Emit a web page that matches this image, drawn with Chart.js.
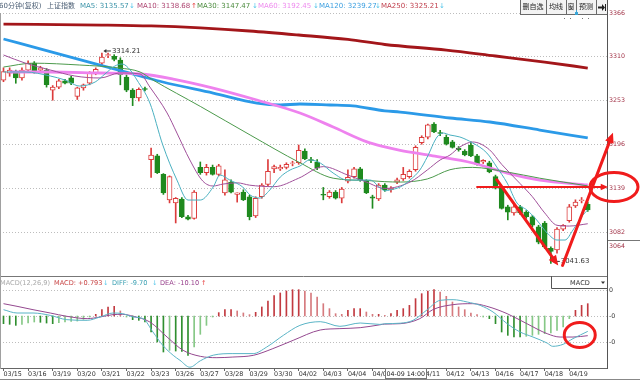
<!DOCTYPE html>
<html><head><meta charset="utf-8">
<script src="https://cdn.jsdelivr.net/npm/chart.js@4.4.0/dist/chart.umd.min.js"></script>
<style>
html,body{margin:0;padding:0;background:#fff;}
#wrap{position:relative;width:640px;height:380px;overflow:hidden;background:#fff;}
canvas{position:absolute;left:0;}
#main{top:0;}
#macd{top:276px;}
</style></head><body>
<div id="wrap"><canvas id="main" width="640" height="276"></canvas><canvas id="macd" width="640" height="104"></canvas></div>
<script>
// ---------- data ----------
const dayLabels = ['03/15','03/16','03/19','03/20','03/21','03/22','03/23','03/26','03/27','03/28','03/29','03/30','04/02','04/03','04/04','04/09','04/10','04/11','04/12','04/13','04/16','04/17','04/18','04/19'];

const openP  = [3279,3288,3288,3282,3292,3301,3292,3292,3266,3270,3278,3282,3258,3269,3275,3288,3301,3311,3310,3305,3283,3266,3256,3268,3176,3181,3157,3124,3120,3125,3102,3100,3166,3159,3166,3157,3133,3147,3131,3134,3128,3103,3128,3144,3164,3164,3166,3171,3172,3187,3176,3173,3131,3128,3134,3126,3148,3154,3164,3148,3128,3125,3143,3137,3147,3151,3154,3163,3198,3205,3222,3211,3205,3199,3191,3187,3195,3181,3173,3172,3154,3139,3115,3107,3115,3108,3102,3089,3094,3061,3059,3086,3097,3116,3123,3118];
const highP  = [3295,3295,3292,3295,3304,3303,3297,3294,3272,3280,3280,3284,3270,3274,3290,3295,3314.21,3314,3312,3308,3286,3268,3269,3270,3191,3183,3158,3155,3127,3127,3104,3136,3173,3170,3169,3170,3163,3150,3133,3137,3130,3128,3145,3176,3169,3169,3172,3174,3195,3190,3179,3176,3140,3136,3136,3140,3163,3166,3166,3150,3130,3145,3145,3141,3152,3166,3163,3194,3207,3222,3224,3214,3208,3201,3193,3189,3199,3183,3176,3174,3156,3140,3117,3117,3117,3110,3104,3091,3096,3063,3088,3092,3118,3124,3127,3121];
const lowP   = [3277,3284,3275,3279,3290,3288,3290,3270,3253,3268,3274,3273,3254,3266,3273,3286,3299,3308,3304,3273,3264,3246,3252,3265,3153,3158,3131,3120,3094,3101,3098,3099,3157,3156,3156,3155,3130,3133,3121,3123,3098,3101,3126,3142,3159,3162,3164,3168,3170,3176,3172,3163,3124,3126,3125,3120,3146,3152,3148,3132,3113,3123,3135,3134,3145,3149,3152,3161,3196,3203,3211,3207,3195,3191,3187,3181,3180,3169,3171,3159,3138,3112,3098,3104,3105,3100,3089,3067,3061,3041.63,3055,3084,3095,3114,3120,3109];
const closeP = [3290,3292,3282,3292,3301,3290,3295,3273,3270,3278,3275,3275,3269,3273,3288,3293,3309,3312,3306,3286,3266,3256,3267,3267,3182,3159,3133,3154,3126,3102,3099,3134,3159,3166,3157,3168,3150,3134,3133,3124,3102,3126,3143,3161,3167,3166,3170,3172,3188,3177,3175,3165,3130,3134,3126,3138,3153,3164,3150,3133,3126,3143,3137,3139,3150,3157,3161,3192,3205,3221,3212,3210,3196,3192,3189,3182,3181,3170,3175,3160,3139,3113,3108,3115,3107,3102,3091,3069,3063,3057,3086,3091,3115,3121,3124,3111];

const ma5Idx = [0,3.5,7.6,10,12.4,14.9,16.5,18.1,19.3,20.6,21.7,23.8,25.9,28.2,30,32,34.1,35.2,36.8,38.9,40.1,41.7,43.3,45,46.6,48.2,49.8,51.5,53.6,55.9,58,59.6,61.2,62,62.8,64.5,66.1,67.7,68.9,70.5,71.5,72.6,74.2,76.3,78.6,80.2,81.9,83.5,85.1,86.7,88.4,90,91.3,92.6,94.2,95];
const ma5Val = [3289.6,3289.6,3284.4,3279.2,3271.4,3276.6,3287.0,3297.3,3299.9,3292.2,3279.2,3249.4,3195.0,3149.6,3123.7,3123.7,3140.6,3156.1,3149.6,3140.6,3130.2,3126.3,3136.7,3153.5,3162.6,3167.8,3175.6,3171.7,3158.7,3149.6,3149.6,3149.6,3140.0,3135.6,3136.7,3140.6,3149.6,3162.6,3179.4,3205.4,3210.5,3207.9,3205.4,3197.6,3184.6,3166.5,3145.7,3119.8,3110.8,3097.8,3081.0,3071.9,3071.9,3084.9,3104.3,3110.8];
const ma10Idx = [0,3.5,7.6,11.6,15.7,18.9,22.2,23.8,26.6,28.2,30.3,32.4,34.1,35.7,38,40,44,48,52,56,59,62,66.1,68.9,71,72.6,74.2,76.3,79,81,84,86,88,90,92,95];
const ma10Val = [3311.6,3301.2,3292.2,3284.4,3281.8,3288.3,3287.0,3270.1,3236.5,3210.5,3175.6,3148.3,3141.9,3144.4,3146,3143,3141,3152,3167,3156,3147,3138.7,3147,3162.6,3175.6,3182,3192.4,3198.9,3189,3170,3145,3128,3107,3091,3090,3093];
const ma30Idx = [0,4.8,12.4,18.9,22.2,24.3,32,40.1,48.2,53.6,59.1,62,64.5,68.9,72.6,76.3,81.9,87.2,95];
const ma30Val = [3296,3301,3298.6,3294.7,3289.6,3279.2,3245,3208,3172,3152,3149,3147.5,3147,3151,3163,3166,3160,3152,3142];
const ma60Idx = [1,7.6,15.7,22.2,27.6,34.1,41.2,48.2,53.6,59.1,62,64.5,69.8,76.3,81.9,87.2,95];
const ma60Val = [3289.6,3289.6,3288.3,3287.0,3280.5,3268.8,3253.3,3236.4,3218.3,3199,3192.45,3188,3181,3171.7,3158.7,3149.6,3143.2];
const ma120Idx = [0,7.6,15.7,22.2,25.9,34.1,41.2,45,48.2,53.1,56.8,62,64.5,72.6,79.1,87.2,95];
const ma120Val = [3332.3,3316,3298.6,3284.6,3276.6,3262.3,3249.4,3246.8,3248.1,3246.8,3245.6,3239.3,3237.7,3230.0,3224.8,3214.4,3204.1];
const ma250Idx = [0,16,24,32,40,48,56,62,72,80,88,95];
const ma250Val = [3351.7,3350.4,3349.2,3346.6,3342.7,3337.5,3331.7,3325.2,3318,3310.3,3302.5,3294.7];

const macdHist = [-9.6,-10.4,-11.7,-10.4,-8.8,-7.5,-7.9,-8.8,-9.6,-8.3,-7.5,-6.7,-6.3,-4.2,-1.3,2.1,7.9,11.3,12.1,6.3,-1.3,-4.6,-5.4,-7.5,-20,-32.5,-45,-42.9,-43.8,-44.2,-49.2,-38.8,-22.9,-11.7,-1.3,4.2,7.9,7.9,6.3,3.8,1.7,4.6,11.3,18.8,25.4,28.8,31.3,32.9,32.9,31.3,28.8,23.8,15.4,9.2,2.9,2.1,7.1,9.2,9.2,5.0,2.1,2.1,0.793,2.9,7.1,9.2,13.3,21.7,27.9,31.3,32.9,30.0,24.6,17.5,11.3,7.9,3.8,1.7,-1.3,-3.3,-9.6,-20,-24.2,-26.3,-26.3,-25.4,-24.2,-22.9,-22.1,-21.3,-17.9,-13.8,-3.3,7.1,13.3,15.4];
const diffIdx = [0,2.2,4.8,7.6,10.3,13.6,15.7,17.8,19.4,21.1,22.7,24.3,25.9,27.6,28.7,30.3,32,34.1,37.3,40.6,42.8,45.5,48.2,51.5,54.7,58,61.2,62,64.5,66.6,68.9,71,73.1,75.4,77.5,79.6,81.9,84,86.1,88.4,89.3,91,92.6,95];
const diffVal = [7.9,3.75,3.75,0.8,-4.6,-5.4,-1.25,3.75,2.9,-1.25,-3.3,-20,-36.7,-49.2,-55.4,-64,-56,-49,-47,-47,-38.8,-24.2,-11.7,-7.1,-12.9,-8.75,-10.5,-9.7,-9.0,-5.4,7.9,19.6,20.4,17.5,13.3,5,-9.6,-20,-26.3,-33.8,-37.9,-35.4,-28.3,-19.2];
const deaIdx = [0,2.2,4.8,7.6,10.3,13.6,15.7,17.8,19.4,21.1,23.8,26.6,29.2,32,34.7,37.3,40.6,43.8,47.1,51.5,54.7,58,61.2,62,64.5,67.7,69.8,73.1,76.3,78.6,81.9,85.1,88.4,90.5,92.6,95];
const deaVal = [15.4,12.1,7.9,3.75,-0.4,-3.3,-1.25,1.7,2.1,-0.4,-7.5,-26.3,-42.9,-50.4,-52.1,-51.3,-49.2,-40.8,-30.4,-17.5,-15.8,-14.6,-11,-10.1,-9.6,-3.3,7.9,14.2,15.4,12.1,2.9,-9.6,-22.1,-26.3,-26.3,-24.6];

const priceTicks = [3366,3310,3253,3196,3139,3082,3064];
const priceGrid = [3366,3310,3253,3196,3139,3082];
const macdTicks = [32.5,0,-32.5];
const macdTickLabels = ['0','-0','-0'];

const headerItems = [
  {t:'60分钟(复权)', c:'#4b5e74', x:-1},
  {t:'上证指数', c:'#4b5e74', x:47},
  {t:'MA5: 3135.57', c:'#3b93a8', x:80}, {t:'↓', c:'#55c6ea', x:129},
  {t:'MA10: 3138.68', c:'#ad4470', x:137}, {t:'↑', c:'#e53535', x:191},
  {t:'MA30: 3147.47', c:'#4a8a3c', x:197}, {t:'↓', c:'#55c6ea', x:252},
  {t:'MA60: 3192.45', c:'#ee8aee', x:258}, {t:'↓', c:'#55c6ea', x:313},
  {t:'MA120: 3239.27', c:'#3c9fe0', x:319}, {t:'↓', c:'#55c6ea', x:375},
  {t:'MA250: 3325.21', c:'#c0404e', x:381}, {t:'↓', c:'#55c6ea', x:439}
];
const macdHeader = [
  {t:'MACD(12,26,9)', c:'#a9a9a9', x:0},
  {t:'MACD: +0.793', c:'#c84444', x:54}, {t:'↓', c:'#55c6ea', x:103},
  {t:'DIFF: -9.70', c:'#3aa0b2', x:112}, {t:'↓', c:'#55c6ea', x:152},
  {t:'DEA: -10.10', c:'#98408c', x:160}, {t:'↑', c:'#e53535', x:201}
];
const buttons = [{t:'删自选',a:520,b:546},{t:'均线',a:546,b:566},{t:'窗',a:566,b:576},{t:'预测',a:576,b:596},{t:'',a:596,b:607}];
const extremes = [{i:16, v:3314.21, t:'3314.21'},{i:89, v:3041.63, t:'3041.63'}];
const crossIdx = 62, crossLabel = '04-09 14:00';
const redArrows = [
  {a:[77,3140.6], b:[98.3,3140.6], w:2, h:8},
  {a:[80.2,3150], b:[90.2,3039], w:3, h:11},
  {a:[90.9,3039], b:[99.1,3211], w:3, h:11}
];
const redRingMain = {at:[99.27,3140.6], rx:24, ry:14.5};
const redRingMacd = {at:[93.7,-23.75], rx:15.5, ry:12.5};

// ---------- helpers ----------
const X_MIN = -3.5/6.15, X_MAX = X_MIN + 607/6.15;
const Y_MIN = 3026.6, Y_MAX = 3366;
const RED = '#dc3c3c', GREEN = '#1f8a1f', ANN = '#f01c1c';
const FONT = '"DejaVu Sans","Noto Sans CJK SC",sans-serif';
const pts = (ix, vs) => ix.map((x,k)=>({x:x, y:vs[k]}));
const up = closeP.map((c,i)=>c>=openP[i]);

function drawArrow(ctx,x1,y1,x2,y2,lw,head){
  const a = Math.atan2(y2-y1,x2-x1);
  ctx.lineWidth = lw;
  ctx.beginPath(); ctx.moveTo(x1,y1); ctx.lineTo(x2-head*0.7*Math.cos(a), y2-head*0.7*Math.sin(a)); ctx.stroke();
  ctx.beginPath(); ctx.moveTo(x2,y2);
  ctx.lineTo(x2-head*Math.cos(a-0.42), y2-head*Math.sin(a-0.42));
  ctx.lineTo(x2-head*Math.cos(a+0.42), y2-head*Math.sin(a+0.42));
  ctx.closePath(); ctx.fill();
}
function dottedGrid(chart, values){
  const {ctx, chartArea, scales:{y}} = chart;
  ctx.save(); ctx.strokeStyle = '#bdbdbd'; ctx.lineWidth = 1; ctx.setLineDash([1,2]);
  values.forEach(v=>{ const py = Math.round(y.getPixelForValue(v))+0.5;
    ctx.beginPath(); ctx.moveTo(chartArea.left, py); ctx.lineTo(chartArea.right, py); ctx.stroke(); });
  ctx.restore();
}

const mainDeco = {
  id:'mainDeco',
  beforeDatasetsDraw(chart){ dottedGrid(chart, priceGrid); },
  afterDraw(chart){
    const {ctx, scales:{x:xs, y:ys}} = chart;
    ctx.save();
    ctx.textBaseline = 'middle'; ctx.textAlign = 'left';
    ctx.font = '7px '+FONT;
    headerItems.forEach(it=>{ ctx.fillStyle = it.c; ctx.fillText(it.t, it.x, 6.5); });
    // buttons
    ctx.font = '7px '+FONT;
    buttons.forEach(b=>{
      ctx.fillStyle = '#f3f3f3'; ctx.fillRect(b.a, 0, b.b-b.a, 15);
      ctx.strokeStyle = '#6a6a6a'; ctx.lineWidth = 1; ctx.strokeRect(b.a+0.5, -0.5, b.b-b.a, 15);
      ctx.fillStyle = '#222'; ctx.textAlign = 'center'; ctx.fillText(b.t, (b.a+b.b)/2, 7.5);
    });
    ctx.fillStyle = '#222';
    ctx.beginPath(); ctx.moveTo(598,6.5); ctx.lineTo(602,6.5); ctx.lineTo(602,4); ctx.lineTo(605,7.5); ctx.lineTo(602,11); ctx.lineTo(602,8.5); ctx.lineTo(598,8.5); ctx.closePath(); ctx.fill();
    ctx.fillRect(605,4,1,7);
    // small marker under buttons
    ctx.fillStyle = '#3aa6d8'; ctx.fillRect(575,12,3,3); ctx.fillRect(576,10,1,2);
    ctx.fillStyle = '#777';
    [564,570,582,588].forEach(xx=>ctx.fillRect(xx,18,1,1));
    // frame
    ctx.strokeStyle = '#555'; ctx.lineWidth = 1;
    ctx.beginPath(); ctx.moveTo(607.5,0); ctx.lineTo(607.5,276); ctx.stroke();
    ctx.strokeStyle = '#a0a0a0';
    ctx.beginPath(); ctx.moveTo(0.5,13); ctx.lineTo(0.5,276); ctx.stroke();
    const y64 = Math.round(ys.getPixelForValue(3064)-6)+0.5;
    ctx.strokeStyle = '#777';
    ctx.beginPath(); ctx.moveTo(608,y64); ctx.lineTo(640,y64); ctx.stroke();
    // extremes
    ctx.font = '6.9px '+FONT; ctx.textAlign = 'left';
    extremes.forEach(e=>{
      const px = xs.getPixelForValue(e.i), py = ys.getPixelForValue(e.v) - 2;
      ctx.strokeStyle = '#333'; ctx.fillStyle = '#333'; ctx.lineWidth = 1;
      ctx.beginPath(); ctx.moveTo(px+3, py); ctx.lineTo(px+9, py); ctx.stroke();
      ctx.beginPath(); ctx.moveTo(px+1.5, py); ctx.lineTo(px+4.5, py-2); ctx.lineTo(px+4.5, py+2); ctx.closePath(); ctx.fill();
      ctx.fillText(e.t, px+10, py);
    });
    // annotations
    ctx.strokeStyle = ANN; ctx.fillStyle = ANN; ctx.lineCap = 'round';
    redArrows.forEach(r=>{
      drawArrow(ctx, xs.getPixelForValue(r.a[0]), ys.getPixelForValue(r.a[1]), xs.getPixelForValue(r.b[0]), ys.getPixelForValue(r.b[1]), r.w, r.h);
    });
    ctx.lineWidth = 3;
    ctx.beginPath();
    ctx.ellipse(xs.getPixelForValue(redRingMain.at[0]), ys.getPixelForValue(redRingMain.at[1]), redRingMain.rx, redRingMain.ry, 0, 0, Math.PI*2);
    ctx.stroke();
    ctx.restore();
  }
};

const macdDeco = {
  id:'macdDeco',
  beforeDatasetsDraw(chart){ dottedGrid(chart, macdTicks); },
  afterDraw(chart){
    const {ctx, scales:{x:xs, y:ys}} = chart;
    ctx.save();
    ctx.strokeStyle = '#777'; ctx.lineWidth = 1;
    ctx.beginPath(); ctx.moveTo(0,0.5); ctx.lineTo(607,0.5); ctx.stroke();
    ctx.strokeStyle = '#a0a0a0';
    ctx.beginPath(); ctx.moveTo(0.5,0); ctx.lineTo(0.5,93); ctx.stroke();
    ctx.strokeStyle = '#555';
    ctx.beginPath(); ctx.moveTo(607.5,0); ctx.lineTo(607.5,93); ctx.stroke();
    ctx.strokeStyle = '#888';
    ctx.beginPath(); ctx.moveTo(0,103.5); ctx.lineTo(640,103.5); ctx.stroke();
    ctx.textBaseline = 'middle'; ctx.textAlign = 'left'; ctx.font = '6.6px '+FONT;
    macdHeader.forEach(it=>{ ctx.fillStyle = it.c; ctx.fillText(it.t, it.x, 7); });
    // MACD selector box
    ctx.fillStyle = '#fff'; ctx.fillRect(551,1,56,11);
    ctx.strokeStyle = '#555';
    ctx.beginPath(); ctx.moveTo(551.5,0); ctx.lineTo(551.5,12.5); ctx.lineTo(607,12.5); ctx.stroke();
    ctx.fillStyle = '#333'; ctx.textAlign = 'center'; ctx.fillText('MACD', 580, 7);
    ctx.beginPath(); ctx.moveTo(601,5.5); ctx.lineTo(605,5.5); ctx.lineTo(603,8); ctx.closePath(); ctx.fill();
    // crosshair date box
    const cx = Math.round(xs.getPixelForValue(crossIdx));
    ctx.fillStyle = '#fff'; ctx.fillRect(cx, 93, 42, 10);
    ctx.strokeStyle = '#777'; ctx.strokeRect(cx+0.5, 92.5, 41, 10);
    ctx.fillStyle = '#222'; ctx.textAlign = 'left'; ctx.font = '6.3px '+FONT;
    ctx.fillText(crossLabel, cx+1.5, 98.5);
    // ring
    ctx.strokeStyle = ANN; ctx.lineWidth = 3;
    ctx.beginPath();
    ctx.ellipse(xs.getPixelForValue(redRingMacd.at[0]), ys.getPixelForValue(redRingMacd.at[1]), redRingMacd.rx, redRingMacd.ry, 0, 0, Math.PI*2);
    ctx.stroke();
    ctx.restore();
  }
};

const lineDs = (label, ix, vs, color, w, order) => ({type:'line', label, data: pts(ix,vs), borderColor:color, borderWidth:w, pointRadius:0, fill:false, cubicInterpolationMode:'monotone', order});

new Chart(document.getElementById('main'), {
  type:'bar',
  data:{ datasets:[
    lineDs('MA250', ma250Idx, ma250Val, '#a3161a', 2.8, 6),
    lineDs('MA120', ma120Idx, ma120Val, '#2b9ae8', 2.8, 5),
    lineDs('MA60', ma60Idx, ma60Val, '#ee82ee', 2.8, 4),
    lineDs('MA30', ma30Idx, ma30Val, '#4c9a4c', 1, 3),
    lineDs('MA10', ma10Idx, ma10Val, '#a0509a', 1, 2),
    lineDs('MA5', ma5Idx, ma5Val, '#4ab0c0', 1, 1),
    {type:'bar', label:'body', data: openP.map((o,i)=>({x:i, y:[o, closeP[i]]})),
      backgroundColor: up.map(u=>u?'#ffffff':GREEN), borderColor: up.map(u=>u?RED:GREEN),
      borderWidth:1, borderSkipped:false, barThickness:5, grouped:false, order:8},
    {type:'bar', label:'wick', data: lowP.map((l,i)=>({x:i, y:[l, highP[i]]})),
      backgroundColor: up.map(u=>u?RED:GREEN), borderWidth:0, barThickness:1, grouped:false, order:9}
  ]},
  options:{
    responsive:false, animation:false, devicePixelRatio:1, events:[],
    layout:{padding:{top:13,bottom:1,left:0,right:0}},
    plugins:{legend:{display:false}, tooltip:{enabled:false}},
    scales:{
      x:{type:'linear', min:X_MIN, max:X_MAX, display:false, offset:false, grid:{offset:false}},
      y:{type:'linear', position:'right', min:Y_MIN, max:Y_MAX,
        afterBuildTicks: s=>{ s.ticks = priceTicks.map(v=>({value:v})); },
        afterFit: s=>{ s.width = 33; s.paddingTop = 0; s.paddingBottom = 0; },
        ticks:{ callback: v=>String(v), color:'#a3364a', font:{family:'DejaVu Sans', size:6.3}, padding:2, autoSkip:false },
        grid:{ display:false, drawTicks:false }, border:{ display:false }
      }
    }
  },
  plugins:[mainDeco]
});

const histColors = macdHist.map((v,i)=>{
  const p = i>0 ? macdHist[i-1] : v; const grow = Math.abs(v) >= Math.abs(p);
  if (v >= 0) return grow ? '#c23a40' : '#d67a7e';
  return grow ? '#2f8f2f' : '#86c886';
});

new Chart(document.getElementById('macd'), {
  type:'bar',
  data:{ datasets:[
    lineDs('DIFF', diffIdx, diffVal, '#5ab4c6', 1, 1),
    lineDs('DEA', deaIdx, deaVal, '#94488f', 1, 2),
    {type:'bar', label:'MACD', data: macdHist.map((v,i)=>({x:i, y:v})), backgroundColor: histColors, borderWidth:0, barThickness:1, grouped:false, order:3}
  ]},
  options:{
    responsive:false, animation:false, devicePixelRatio:1, events:[],
    layout:{padding:{top:0,bottom:0,left:0,right:0}},
    plugins:{legend:{display:false}, tooltip:{enabled:false}},
    scales:{
      x:{type:'linear', min:X_MIN, max:X_MAX, offset:false, position:'bottom',
        afterBuildTicks: s=>{ s.ticks = dayLabels.map((_,d)=>({value:4*d})); },
        afterFit: s=>{ s.height = 12; s.paddingLeft = 0; s.paddingRight = 0; },
        ticks:{ callback:(v,i)=>dayLabels[i], align:'start', autoSkip:false, maxRotation:0, minRotation:0, padding:0, color:'#333', font:{family:'DejaVu Sans', size:6.4} },
        grid:{ drawOnChartArea:false, drawTicks:true, tickLength:3, color:'#666', offset:false },
        border:{ display:true, color:'#666' }
      },
      y:{type:'linear', position:'right', min:-65, max:50,
        afterBuildTicks: s=>{ s.ticks = macdTicks.map(v=>({value:v})); },
        afterFit: s=>{ s.width = 33; s.paddingTop = 0; s.paddingBottom = 0; },
        ticks:{ callback:(v,i)=>macdTickLabels[i], color:'#333', font:{family:'DejaVu Sans', size:6.3}, padding:2, autoSkip:false },
        grid:{ display:false, drawTicks:false }, border:{ display:false }
      }
    }
  },
  plugins:[macdDeco]
});
</script>
</body></html>
